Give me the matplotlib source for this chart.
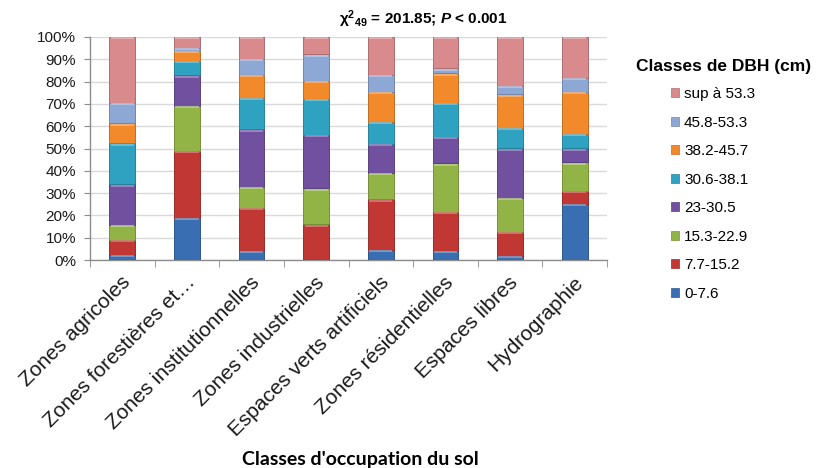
import matplotlib
matplotlib.use("Agg")
import matplotlib.pyplot as plt
import numpy as np
from matplotlib.patches import Patch
from matplotlib.ticker import FuncFormatter, MultipleLocator, FixedLocator
import matplotlib.transforms as mtransforms
import matplotlib.colors as mcolors

plt.rcParams['font.family'] = ['Liberation Sans', 'DejaVu Sans']
plt.rcParams['mathtext.fontset'] = 'custom'
plt.rcParams['mathtext.rm'] = 'Liberation Sans:bold'
plt.rcParams['mathtext.bf'] = 'Liberation Sans:bold'
plt.rcParams['mathtext.it'] = 'Liberation Sans:italic:bold'
plt.rcParams['mathtext.default'] = 'bf'

categories = ['Zones agricoles', 'Zones forestières et…', 'Zones institutionnelles',
              'Zones industrielles', 'Espaces verts artificiels', 'Zones résidentielles',
              'Espaces libres', 'Hydrographie']
classes = ['0-7.6', '7.7-15.2', '15.3-22.9', '23-30.5', '30.6-38.1',
           '38.2-45.7', '45.8-53.3', 'sup à 53.3']

dbh_0_7 = [2.2, 19.0, 4.0, 0.0, 4.5, 4.2, 1.8, 25.0]
dbh_7_15 = [6.8, 30.0, 19.2, 16.0, 22.7, 17.5, 10.9, 6.1]
dbh_15_22 = [6.7, 20.1, 9.5, 16.1, 11.7, 21.6, 15.3, 12.7]
dbh_23_30 = [18.2, 13.7, 25.9, 24.0, 13.0, 12.0, 22.1, 6.3]
dbh_30_38 = [18.4, 6.4, 14.2, 16.1, 10.1, 15.0, 9.2, 6.3]
dbh_38_45 = [9.0, 4.5, 10.2, 8.1, 13.5, 13.4, 15.0, 19.1]
dbh_45_53 = [9.0, 1.5, 7.1, 11.9, 7.5, 2.2, 3.7, 6.0]
dbh_sup53 = [29.7, 4.8, 9.9, 7.8, 17.0, 14.1, 22.0, 18.5]

series = [dbh_0_7, dbh_7_15, dbh_15_22, dbh_23_30, dbh_30_38, dbh_38_45, dbh_45_53, dbh_sup53]
colors = ['#3A6EB3', '#C03733', '#92B446', '#7150A0', '#2FA2C1', '#F28A2C', '#8EA8D6', '#D98A8D']

def shade(c, f):
    r = np.array(mcolors.to_rgb(c))
    return tuple(np.clip(r * f, 0, 1))

def light(c, f):
    r = np.array(mcolors.to_rgb(c))
    return tuple(r + (1 - r) * f)

data = np.array(series, dtype=float)
data = data / data.sum(axis=0) * 100.0

fig = plt.figure(figsize=(8.22, 4.68), dpi=100)
ax = fig.add_axes([90/822, 1-260/468, (607-90)/822, (260-37)/468])

x = np.arange(len(categories))
bw = 0.4
bottom = np.zeros(len(categories))
for vals, c in zip(data, colors):
    ax.bar(x, vals, width=bw, bottom=bottom, color=c, edgecolor=shade(c, 0.8),
           linewidth=0.7, zorder=3)
    tops = bottom + vals
    mask = vals > 0.8
    ax.hlines(tops[mask] - 0.55, x[mask] - bw/2 + 0.02, x[mask] + bw/2 - 0.02,
              color=light(c, 0.35), linewidth=1.2, zorder=4)
    bottom += vals

ax.set_xlim(-0.5, len(categories) - 0.5)
ax.set_ylim(0, 100)
ax.yaxis.set_major_locator(MultipleLocator(10))
ax.yaxis.set_major_formatter(FuncFormatter(lambda v, p: f"{int(round(v))}%"))
ax.grid(axis='y', color='#D9D9D9', linewidth=1.0, zorder=0)
ax.set_axisbelow(True)

for s in ['top', 'right']:
    ax.spines[s].set_visible(False)
for s in ['left', 'bottom']:
    ax.spines[s].set_color('#8C8C8C')
    ax.spines[s].set_linewidth(1.0)

ax.tick_params(axis='y', length=4, color='#8C8C8C', labelsize=11, pad=6, labelcolor='#1a1a1a')
ax.set_xticks(x)
ax.xaxis.set_minor_locator(FixedLocator(np.arange(-0.5, len(categories), 1.0)))
ax.tick_params(axis='x', which='major', length=0, pad=14)
ax.tick_params(axis='x', which='minor', length=5, color='#8C8C8C')
ax.set_xticklabels(categories, rotation=45, ha='right', va='center',
                   rotation_mode='anchor', fontsize=15, color='#1a1a1a')
offset = mtransforms.ScaledTranslation(5/100, 0, fig.dpi_scale_trans)
for lab in ax.get_xticklabels():
    lab.set_transform(lab.get_transform() + offset)

fig.text(360/822, 1-459/468, "Classes d'occupation du sol", fontsize=14, fontweight='bold',
         family=['Lato', 'DejaVu Sans'], ha='center', va='center')

fig.text(423/822, 1-19/468, r"χ$^{2}{}_{49}$ = 201.85; $\mathit{P}$ < 0.001", fontsize=11,
         fontweight='bold', ha='center', va='center')

fig.text(724/822, 1-67/468, "Classes de DBH (cm)", fontsize=12.5, fontweight='bold',
         ha='center', va='center')

handles = [Patch(facecolor=c, edgecolor=shade(c, 0.8), linewidth=0.5) for c in colors]
leg = fig.legend(handles[::-1], classes[::-1], loc='upper left',
                 bbox_to_anchor=(671/822, 1-87/468), frameon=False, fontsize=11,
                 handlelength=0.55, handleheight=0.55, handletextpad=0.3,
                 labelspacing=0.95, borderpad=0, borderaxespad=0)

fig.savefig('out.png', dpi=100)
